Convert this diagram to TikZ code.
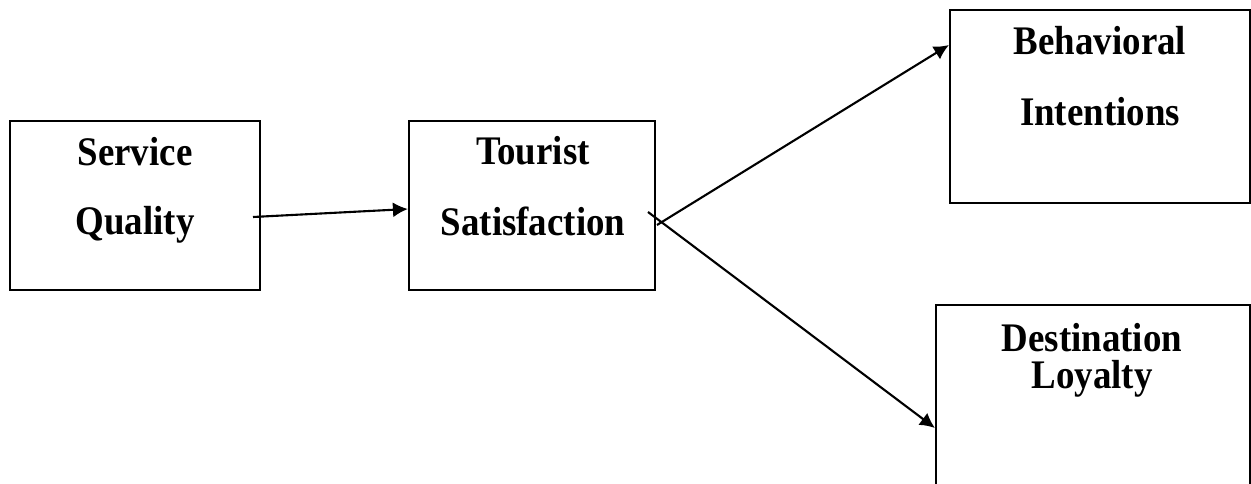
\documentclass[tikz,border=0pt]{standalone}
\usepackage{fontspec}
\setmainfont{Liberation Serif}
\usepackage{graphicx}
\usepackage{tikz}
\usetikzlibrary{arrows.meta, positioning}

\newcommand{\tall}[1]{\scalebox{1}[1.1]{#1}}

\begin{document}
\begin{tikzpicture}[line width=1.2pt, >={Latex[length=0.3cm,width=0.3cm]}]
        \tikzset{box/.style={draw, rectangle, inner sep=0pt},
                 lbl/.style={anchor=base, inner sep=0pt, font=\fontsize{21}{25}\selectfont\bfseries}}
        \clip (0,0) rectangle (25.02,9.66);

        % the four boxes
        \node[box, minimum width=5cm, minimum height=3.38cm] (sq) at (2.7,5.55) {};
        \node[box, minimum width=4.92cm, minimum height=3.38cm] (ts) at (10.64,5.55) {};
        \node[box, minimum width=6cm, minimum height=3.86cm] (bi) at (22.0,7.53) {};
        \node[box, minimum width=6.28cm, minimum height=3.9cm] (dl) at (21.86,1.61) {};

        \node[lbl] (sq_a) at (2.7,6.36) {\tall{Service}};
        \node[lbl] (sq_b) at (2.7,4.98) {\tall{Quality}};
        \node[lbl] (ts_a) at (10.66,6.38) {\tall{Tourist}};
        \node[lbl] (ts_b) at (10.66,4.96) {\tall{Satisfaction}};
        \node[lbl] (bi_a) at (22.0,8.56) {\tall{Behavioral}};
        \node[lbl] (bi_b) at (22.0,7.16) {\tall{Intentions}};
        \node[lbl] (dl_a) at (21.84,2.63) {\tall{Destination}};
        \node[lbl] (dl_b) at (21.84,1.89) {\tall{Loyalty}};

        % arrow ends
        \coordinate (sq_out) at (5.06,5.32);
        \coordinate (ts_in) at (ts.west |- 0,5.48);
        \coordinate (ts_up) at (13.14,5.16);
        \coordinate (ts_dn) at (12.96,5.42);
        \coordinate (bi_in) at (bi.west |- 0,8.76);
        \coordinate (dl_in) at (dl.west |- 0,1.10);

        \draw[->] (sq_out) -- (ts_in);
        \draw[->] (ts_up) -- (bi_in);
        \draw[->] (ts_dn) -- (dl_in);
\end{tikzpicture}
\end{document}
